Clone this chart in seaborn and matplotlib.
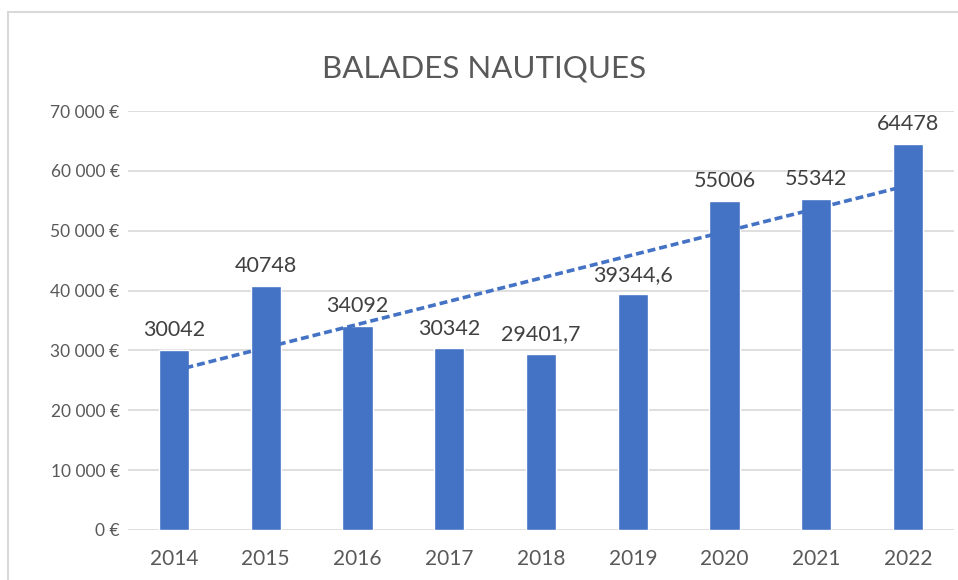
import numpy as np
import pandas as pd
import matplotlib
matplotlib.use("Agg")
import matplotlib.pyplot as plt
from matplotlib.lines import Line2D
import seaborn as sns

# données
annees = ["2014", "2015", "2016", "2017", "2018", "2019", "2020", "2021", "2022"]
ca = [30042, 40748, 34092, 30342, 29401.7, 39344.6, 55006, 55342, 64478]
titre = "BALADES NAUTIQUES"

df = pd.DataFrame({"annee": annees, "ca": ca})

sns.set_style("white")
plt.rcParams["font.family"] = ["Lato", "DejaVu Sans"]

bleu = "#4472C4"
gris_txt = "#595959"
gris_grille = "#D9D9D9"

fig = plt.figure(figsize=(9.58, 5.8), dpi=100)
ax = fig.add_axes([128 / 958, 1 - 530 / 580, 826 / 958, 419 / 580])

sns.barplot(data=df, x="annee", y="ca", color=bleu, width=0.33,
            saturation=1, ax=ax, zorder=2)

# courbe de tendance linéaire
x = np.arange(len(ca))
a, b = np.polyfit(x, ca, 1)
ax.plot(x, a * x + b, color=bleu, lw=2.6, ls=(0, (2.2, 1.1)), zorder=3)

# étiquettes de données
for i, v in enumerate(ca):
    txt = str(int(v)) if float(v).is_integer() else str(v).replace(".", ",")
    ax.annotate(txt, (i, v), xytext=(0, 7), textcoords="offset points",
                ha="center", va="bottom", fontsize=15.5, color="#404040", zorder=4)

ax.set_ylim(0, 70000)
ax.set_yticks(range(0, 70001, 10000))
ax.set_yticklabels([f"{t:,}".replace(",", " ") + " €" for t in range(0, 70001, 10000)])
ax.set_xlim(-0.5, len(annees) - 0.5)
ax.set_xlabel("")
ax.set_ylabel("")
ax.yaxis.grid(True, color=gris_grille, lw=1.2, zorder=0)
ax.set_axisbelow(True)
ax.tick_params(axis="both", length=0, colors=gris_txt)
ax.tick_params(axis="x", pad=14, labelsize=15)
ax.tick_params(axis="y", pad=6, labelsize=12.5)
for s in ax.spines.values():
    s.set_visible(False)

fig.text(0.505, 1 - 69 / 580, titre, ha="center", va="center",
         fontsize=22.5, color=gris_txt)

# bordure du graphique (haut et gauche)
fig.add_artist(Line2D([8 / 958, 8 / 958], [0, 1 - 12 / 580], color=gris_grille, lw=1.5))
fig.add_artist(Line2D([8 / 958, 1], [1 - 12 / 580, 1 - 12 / 580], color=gris_grille, lw=1.5))

fig.savefig("out.png", dpi=100)
